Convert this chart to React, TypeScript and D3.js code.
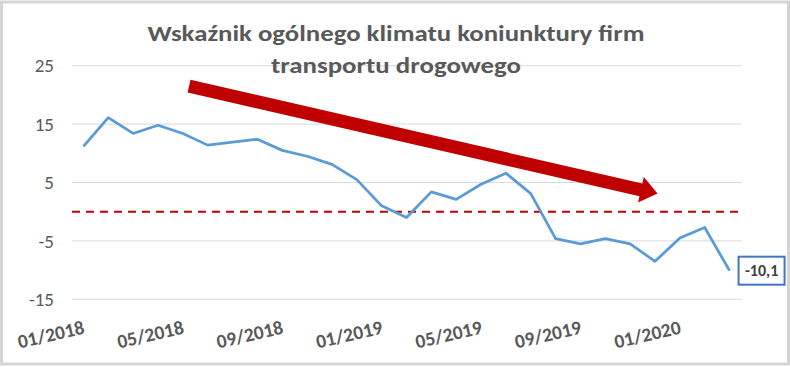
import { useEffect, useRef } from 'react';
import * as d3 from 'd3';

const months = [
  '01/2018', '02/2018', '03/2018', '04/2018', '05/2018', '06/2018', '07/2018', '08/2018', '09/2018',
  '10/2018', '11/2018', '12/2018', '01/2019', '02/2019', '03/2019', '04/2019', '05/2019', '06/2019',
  '07/2019', '08/2019', '09/2019', '10/2019', '11/2019', '12/2019', '01/2020', '02/2020', '03/2020',
];
const values = [
  11.2, 16.1, 13.4, 14.8, 13.4, 11.4, 11.9, 12.4, 10.5, 9.5, 8.1, 5.5, 1.0, -1.0,
  3.4, 2.1, 4.7, 6.6, 3.1, -4.6, -5.5, -4.6, -5.5, -8.5, -4.5, -2.7, -10.1,
];
const yTicks = [25, 15, 5, -5, -15];
const xTickLabels = ['01/2018', '05/2018', '09/2018', '01/2019', '05/2019', '09/2019', '01/2020'];
const titleLines = ['Wskaźnik ogólnego klimatu koniunktury firm', 'transportu drogowego'];
// trend arrow, in data terms: [category index, value]
const arrowFrom: [number, number] = [4.25, 21.5];
const arrowTo: [number, number] = [23.1, 3.1];

const App = () => {
  const ref = useRef<SVGSVGElement>(null);

  useEffect(() => {
    document.body.style.margin = '0';
    const width = 790;
    const height = 367;
    const font = 'Carlito, Calibri, "Open Sans", sans-serif';

    const svg = d3.select(ref.current);
    svg.selectAll('*').remove();

    svg.append('rect')
      .attr('x', 1.5).attr('y', 2)
      .attr('width', width - 3).attr('height', height - 5)
      .attr('fill', '#fff')
      .attr('stroke', '#d4d4d4')
      .attr('stroke-width', 3);

    const x = d3.scaleBand<string>()
      .domain(months)
      .range([71, 742]);
    const y = d3.scaleLinear()
      .domain([-15, 25])
      .range([299.3, 65.7]);
    const cx = (i: number) => x(months[0])! + x.bandwidth() / 2 + i * x.step();

    // gridlines
    svg.append('g')
      .selectAll('line')
      .data(yTicks)
      .join('line')
      .attr('x1', 72).attr('x2', 742)
      .attr('y1', d => y(d)).attr('y2', d => y(d))
      .attr('stroke', '#d9d9d9')
      .attr('stroke-width', 1);

    svg.append('g')
      .selectAll('text')
      .data(yTicks)
      .join('text')
      .attr('x', 54)
      .attr('y', d => y(d))
      .attr('dy', '0.35em')
      .attr('text-anchor', 'end')
      .attr('font-family', font)
      .attr('font-size', 19)
      .attr('fill', '#595959')
      .text(d => d);

    svg.append('g')
      .selectAll('text')
      .data(xTickLabels)
      .join('text')
      .attr('transform', d => `translate(${x(d)! + x.bandwidth() / 2 + 2},${y(-15) + 34}) rotate(-13)`)
      .attr('text-anchor', 'end')
      .attr('font-family', font)
      .attr('font-size', 19.5)
      .attr('font-weight', 700)
      .attr('fill', '#595959')
      .text(d => d);

    // zero reference
    svg.append('line')
      .attr('x1', 72).attr('x2', 742)
      .attr('y1', y(0)).attr('y2', y(0))
      .attr('stroke', '#c00000')
      .attr('stroke-width', 2)
      .attr('stroke-dasharray', '8,6');

    const line = d3.line<number>()
      .x((_, i) => x(months[i])! + x.bandwidth() / 2)
      .y(d => y(d));

    svg.append('path')
      .datum(values)
      .attr('fill', 'none')
      .attr('stroke', '#5b9bd5')
      .attr('stroke-width', 2.75)
      .attr('stroke-linejoin', 'round')
      .attr('d', line);

    // trend arrow
    const x0 = cx(arrowFrom[0]), y0 = y(arrowFrom[1]);
    const x1 = cx(arrowTo[0]), y1 = y(arrowTo[1]);
    const len = Math.hypot(x1 - x0, y1 - y0);
    const ux = (x1 - x0) / len, uy = (y1 - y0) / len;
    const nx = -uy, ny = ux;
    const shaft = 6.5, head = 13, headLen = 17;
    const bx = x1 - ux * headLen, by = y1 - uy * headLen;
    const pts: [number, number][] = [
      [x0 + nx * shaft, y0 + ny * shaft],
      [bx + nx * shaft, by + ny * shaft],
      [bx + nx * head, by + ny * head],
      [x1, y1],
      [bx - nx * head, by - ny * head],
      [bx - nx * shaft, by - ny * shaft],
      [x0 - nx * shaft, y0 - ny * shaft],
    ];
    svg.append('polygon')
      .attr('points', pts.map(p => p.join(',')).join(' '))
      .attr('fill', '#c00000');

    // last value label
    const last = values.length - 1;
    const lx = x(months[last])! + x.bandwidth() / 2;
    const ly = y(values[last]);
    const g = svg.append('g').attr('transform', `translate(${lx + 9},${ly - 14})`);
    g.append('rect')
      .attr('width', 46).attr('height', 28)
      .attr('fill', '#fff')
      .attr('stroke', '#4472c4')
      .attr('stroke-width', 2);
    g.append('text')
      .attr('x', 23).attr('y', 14)
      .attr('dy', '0.35em')
      .attr('text-anchor', 'middle')
      .attr('font-family', font)
      .attr('font-size', 16)
      .attr('font-weight', 700)
      .attr('fill', '#404040')
      .text(String(values[last]).replace('.', ','));

    // title
    svg.append('g')
      .selectAll('text')
      .data(titleLines)
      .join('text')
      .attr('x', 396)
      .attr('y', (_, i) => 41 + i * 32)
      .attr('text-anchor', 'middle')
      .attr('font-family', font)
      .attr('font-size', 22)
      .attr('font-weight', 700)
      .attr('fill', '#595959')
      .attr('textLength', (_, i) => (i === 0 ? 497 : 250))
      .attr('lengthAdjust', 'spacingAndGlyphs')
      .text(d => d);
  }, []);

  return <svg ref={ref} width={790} height={367} style={{ display: 'block' }} />;
};

export default App;
